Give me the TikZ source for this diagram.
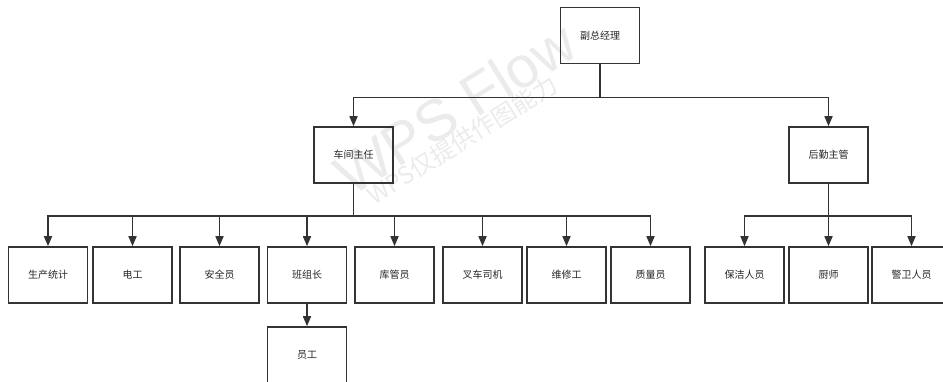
\documentclass[tikz,border=0pt]{standalone}
\usepackage{fontspec}
\setmainfont{Noto Sans CJK SC}
\newfontfamily\wmfont{Liberation Sans}
\usetikzlibrary{arrows.meta}

\tikzset{
  box/.style={draw=black!80, line width=1.6pt, minimum width=79pt, minimum height=56pt,
    inner sep=0pt, font=\fontsize{10}{12}\selectfont, text=black!85},
  link/.style={draw=black!80, line width=1.6pt, -{Triangle[width=8pt,length=10pt]}},
  watermark/.style={text=black!8, rotate=32}
}

\begin{document}
\begin{tikzpicture}[x=1pt,y=-1pt]
\useasboundingbox (0,0) rectangle (943,381);
\clip (0,0) rectangle (943,381);
% watermark
\node[watermark, font=\wmfont\fontsize{58}{58}\selectfont] (wmA) at (455,108) {WPS Flow};
\node[watermark, font=\fontsize{24}{24}\selectfont] (wmB) at (462,140) {WPS仅提供作图能力};
% top
\node[box] (vp) at (600,35.5) {副总经理};
\node[box] (ws) at (353.5,155) {车间主任};
\node[box] (hq) at (828.5,155) {后勤主管};
\draw[link] (vp.south) -- ++(0,33) -| (ws.north);
\draw[link] (vp.south) -- ++(0,33) -| (hq.north);
% workshop staff
\node[box] (stat) at (48,275) {生产统计};
\node[box] (elec) at (132.5,275) {电工};
\node[box] (safe) at (219.5,275) {安全员};
\node[box] (lead) at (307,275) {班组长};
\node[box] (store) at (394.5,275) {库管员};
\node[box] (fork) at (482.5,275) {叉车司机};
\node[box] (fix) at (566.5,275) {维修工};
\node[box] (qc) at (650.5,275) {质量员};
\foreach \n in {stat,elec,safe,lead,store,fork,fix,qc}
  \draw[link] (ws.south) -- ++(0,32) -| (\n.north);
\node[box] (crew) at (307,355) {员工};
\draw[link] (lead.south) -- (crew.north);
% logistics staff
\node[box] (clean) at (744.5,275) {保洁人员};
\node[box] (cook) at (828.5,275) {厨师};
\node[box] (guard) at (911.5,275) {警卫人员};
\foreach \n in {clean,cook,guard}
  \draw[link] (hq.south) -- ++(0,32) -| (\n.north);
\end{tikzpicture}
\end{document}
